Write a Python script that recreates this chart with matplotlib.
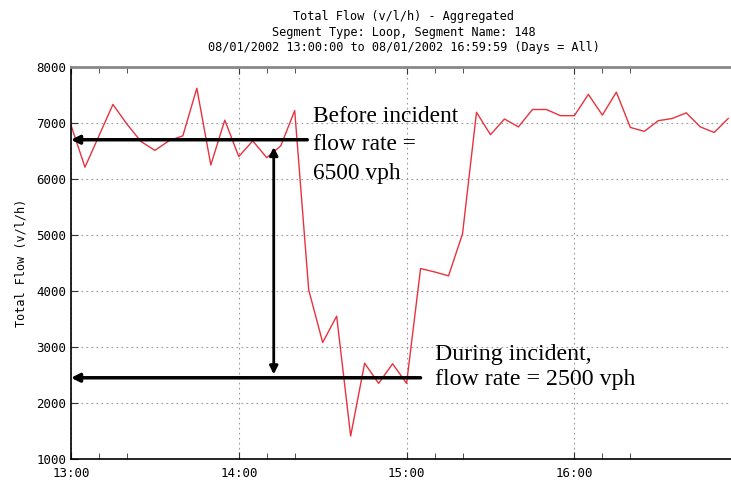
import matplotlib
matplotlib.use('Agg')
import matplotlib.pyplot as plt
import matplotlib.dates as mdates
import pandas as pd

# 5-minute aggregated flow readings, 13:00 to 16:55
start_time = '2002-08-01 13:00'
flow = [6960, 6210, 6770, 7330, 6980, 6670, 6510, 6680, 6770, 7620,
        6250, 7050, 6400, 6680, 6380, 6590, 7220, 4020, 3080, 3550,
        1410, 2710, 2350, 2700, 2350, 4400, 4340, 4270, 5020, 7190,
        6790, 7070, 6930, 7240, 7240, 7130, 7130, 7510, 7140, 7550,
        6920, 6850, 7040, 7080, 7180, 6930, 6830, 7080]
hour_labels = ['13:00', '14:00', '15:00', '16:00']

before_rate = 6700
during_rate = 2450

times = pd.date_range(start_time, periods=len(flow), freq='5min')
day = pd.Timestamp('2002-08-01')


def at(hhmm):
    return mdates.date2num(day + pd.Timedelta(hhmm))


fig = plt.figure(figsize=(7.31, 4.84), dpi=100)
ax = fig.add_axes([0.0971, 0.0517, 0.9029, 0.81])

ax.plot(times, flow, color='#e8323f', linewidth=1.0)

ax.set_xlim(at('13:00:00'), at('16:56:00'))
ax.set_ylim(1000, 8000)
ax.set_yticks(range(1000, 8001, 1000))
ax.set_xticks([at(h + ':00') for h in hour_labels])
ax.set_xticklabels(hour_labels)
minor = [at(f'{h}:{m}:00') for h in range(13, 17) for m in (10, 20)]
ax.set_xticks(minor, minor=True)

ax.grid(True, which='major', color='#999999', linestyle=(0, (1.5, 3)), linewidth=0.8)
ax.tick_params(axis='both', which='both', direction='in', labelsize=9,
               top=True, right=False, color='#333333')
ax.tick_params(axis='both', which='major', length=5)
ax.tick_params(axis='x', which='major', pad=6)
ax.tick_params(axis='x', which='minor', length=4)
for label in ax.get_xticklabels() + ax.get_yticklabels():
    label.set_family('DejaVu Sans Mono')

ax.spines['right'].set_visible(False)
ax.spines['top'].set_color('#888888')
ax.spines['top'].set_linewidth(2)
ax.spines['left'].set_linewidth(1.2)
ax.spines['bottom'].set_linewidth(1.2)

ax.set_ylabel('Total Flow (v/l/h)', family='DejaVu Sans Mono', fontsize=8.5, labelpad=6)

fig.text(0.552, 0.979, 'Total Flow (v/l/h) - Aggregated\n'
         'Segment Type: Loop, Segment Name: 148\n'
         '08/01/2002 13:00:00 to 08/01/2002 16:59:59 (Days = All)',
         ha='center', va='top', family='DejaVu Sans Mono', fontsize=8.6,
         linespacing=1.25)

arrow = dict(arrowstyle='-|>', color='black', linewidth=2.5, mutation_scale=12,
             shrinkA=0, shrinkB=0)
ax.annotate('', xy=(at('13:00:00'), before_rate), xytext=(at('14:24:30'), before_rate),
            arrowprops=arrow)
ax.annotate('', xy=(at('13:00:00'), during_rate), xytext=(at('15:05:00'), during_rate),
            arrowprops=arrow)
ax.annotate('', xy=(at('14:12:30'), before_rate - 130), xytext=(at('14:12:30'), during_rate + 60),
            arrowprops=dict(arrowstyle='<|-|>', color='black', linewidth=2,
                            mutation_scale=12, shrinkA=0, shrinkB=0))

ax.text(at('14:26:30'), 7300, 'Before incident\nflow rate =\n6500 vph',
        family='Liberation Serif', fontsize=16.8, va='top', linespacing=1.45)
ax.text(at('15:10:00'), 3060, 'During incident,\nflow rate = 2500 vph',
        family='Liberation Serif', fontsize=17.2, va='top', linespacing=1.3)

fig.savefig('out.png', dpi=100)
